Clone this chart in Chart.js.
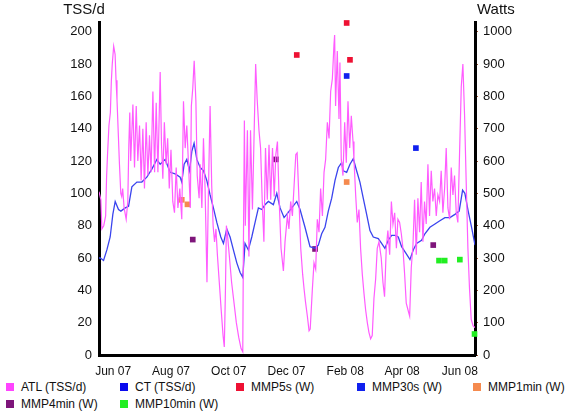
<!DOCTYPE html>
<html>
<head>
<meta charset="utf-8">
<script src="https://cdn.jsdelivr.net/npm/chart.js@4.4.1/dist/chart.umd.min.js"></script>
<style>
  body { margin: 0; background: #fff; }
  #wrap { position: relative; width: 566px; height: 412px; font-family: "Liberation Sans", Arial, sans-serif; }
  #c { position: absolute; left: 0; top: 0; }
  .item { position: absolute; font-size: 12px; line-height: 14px; color: #111; white-space: nowrap; }
  .box { position: absolute; left: 0; top: 3px; width: 8px; height: 8px; }
  .txt { position: absolute; left: 15px; top: 0; }
</style>
</head>
<body>
<div id="wrap">
  <canvas id="c" width="566" height="378"></canvas>
  <div id="legend"></div>
</div>
<script>
// days counted from 1 Jun 2007
var tickDays = [0, 61, 122, 183, 245, 305, 366];
var tickLabels = ["Jun 07", "Aug 07", "Oct 07", "Dec 07", "Feb 08", "Apr 08", "Jun 08"];
var tssTicks = [0, 20, 40, 60, 80, 100, 120, 140, 160, 180, 200];
var wattTicks = [0, 50, 100, 150, 200, 250, 300, 350, 400, 450, 500, 550, 600, 650, 700, 750, 800, 850, 900, 950, 1000];

// ATL (TSS/d): [day, value]
var atl = [
  [-15,101],[-13,96],[-12,78],[-10,80],[-8,86],[-7,110],[-6,124],[-4.5,142],[-3,150],[-2,169],
  [-1,180],[0.5,191],[2,186],[3,170],[4,158],[5.5,135],[6.6,118],[8,100],[9,98],[10,103],
  [11.5,91],[13.7,84],[15.4,95],[16.5,130],[17.5,150],[18.5,120],[20.8,155],[22.5,116],[24.3,154],[26,120],
  [27.8,142],[29.5,108],[31.3,140],[33,103],[34.8,144],[36.6,111],[38.3,136],[40,113],[41.9,163],[43.7,113],
  [45.4,156],[47.2,113],[49.6,175],[51,130],[52.4,109],[54,144],[55.9,118],[57.5,134],[59.2,103],[61,127],
  [62.9,95],[64.7,88],[66.5,116],[68.3,91],[70.3,103],[72.4,84],[74.2,157],[76,128],[77.7,142],[79.5,118],
  [81.4,91],[82.5,154],[84,165],[85.5,182],[87.3,157],[88.7,111],[90.7,97],[91.8,118],[93.6,91],[95.3,134],
  [97,103],[98.5,60],[99,45],[100.5,100],[102.3,154],[104,105],[105.5,80],[107,70],[108.5,78],[110,62],
  [112,45],[114,28],[116,12],[117.3,5],[118.5,40],[119.5,80],[121,72],[122.5,62],[125,45],[127,35],
  [130,20],[132.5,11],[135,4],[136.8,2],[137.5,70],[138.5,145],[139.5,80],[141.7,139],[143.3,61],[145,139],
  [147,90],[148.6,132],[150.4,180],[152,158],[153.9,139],[155.6,128],[157.3,96],[159.1,70],[160.8,128],[162.7,96],
  [164.5,130],[166.3,96],[168.2,128],[170,98],[171.7,124],[173.4,132],[175.2,96],[177.2,66],[179.7,52],[181.4,70],
  [183.9,86],[185.5,78],[187.4,95],[189.2,86],[191,105],[192.8,124],[194.2,125],[196.2,95],[198,66],[200,50],
  [201.5,41],[203,33],[205,24],[206.8,15],[208,16],[210.3,41],[212,57],[213.8,53],[215.5,84],[217.3,76],
  [219,103],[220.9,86],[222.6,113],[224.3,121],[226.1,144],[227.9,134],[229.6,163],[231.4,171],[233.1,192],[233.8,198],
  [234.8,154],[236.6,188],[238.4,146],[239.4,181],[240.8,121],[242.6,111],[244.4,144],[246.1,119],[247.9,157],[249.7,128],
  [251.4,148],[253.2,132],[254.2,121],[256,99],[257.7,82],[259.5,90],[261.2,66],[263,50],[264.8,38],[266.5,28],
  [268.3,20],[270,14],[271.8,10],[273.5,12],[275.3,35],[277.1,47],[278.8,66],[280.6,70],[283,60],[284.8,45],
  [286.5,36],[288.3,66],[290,77],[291.9,62],[293.7,95],[295.4,81],[297.2,88],[299,66],[300.6,84],[302.4,82],
  [304.2,75],[305.9,66],[307.7,50],[309.4,32],[311.2,28],[313,24],[314.7,54],[316.5,68],[318.2,96],[320,62],
  [321.7,97],[323.5,76],[325.2,107],[327,70],[328.7,95],[330.5,81],[332.3,118],[334,86],[335.8,114],[337.5,95],
  [339.3,103],[341.1,86],[342.8,99],[344.6,95],[346.3,114],[348.1,88],[349.9,103],[351.6,128],[353.4,91],[355.2,84],
  [356.9,116],[358.7,99],[360.4,111],[362.2,88],[363.9,82],[365.7,125],[367.5,166],[369.2,180],[371,148],[372.7,107],
  [374.5,66],[376.2,41],[378,22],[380,18],[382,17]
];

// CT (TSS/d), blue trace
var ct = [
  [-15,60],[-13.7,60],[-10.2,58.5],[-6.7,65],[-3.2,73],[-0.4,87],[2.1,95],[5.6,90],[8.1,89],[12.7,91],
  [16.2,92],[19.7,104],[25,107],[30.2,107],[35.5,110],[40.8,115],[46.1,121],[49.6,118],[54.9,121],[60.1,113],
  [65.4,112],[70.7,110],[72.4,107],[74.9,118],[77.7,121],[80.6,114],[83,126],[85.4,131],[88.3,121],[91.8,116],
  [95.3,114],[98.8,108],[102.3,99],[105.8,91],[109.4,82],[113.6,73],[116.4,69],[119.9,78],[123.4,73],[126.9,65],
  [130.5,57],[134,51],[136.8,48],[139.2,69],[142.7,65],[146.3,73],[149.8,82],[153.3,91],[156.9,90],[160.3,93],
  [163.8,95],[169.1,93],[172.7,100],[176.2,91],[180.4,85],[183.2,87],[188.5,91],[193.8,95],[197.3,90],[202.5,79],
  [207.8,67],[213.1,66],[216.6,68],[220.1,75],[223.6,79],[227.1,89],[230.7,97],[234.2,108],[237.7,116],[241.2,119],
  [242.9,114],[246.5,113],[250,118],[253.5,121.5],[257,114],[260.5,107],[264,97],[267.6,87],[271.1,77],[274.6,73],
  [279.9,72],[283.4,69],[286.9,66],[290.4,71],[294,74],[297.5,74],[301,73],[304.5,67],[309,63],[313.3,59],
  [316.8,65],[320.3,69],[325.6,71],[329.1,75],[334.4,79],[339.7,81],[344.9,83],[350.2,85],[355.5,85],[360.8,87],
  [365.3,89],[368.9,102],[371.3,100],[374.8,89],[378.4,79],[382,68]
];

// mean max power points (W)
var mmp5s = [[193.8,928],[246.5,1027],[250,913]];
var mmp30s = [[246.5,863],[319.6,640]];
var mmp1min = [[72.4,480],[78.4,466],[246.5,535]];
var mmp4min = [[84,357],[172,605],[213.1,328],[337.9,340]];
var mmp10min = [[344,292],[350,292],[366,295],[381.5,65]];

var axisTitles = ["TSS/d", "Watts"];

function pts(arr) {
  return arr.map(function (p) { return { x: p[0], y: p[1] }; });
}
function asTicks(vals) {
  return vals.map(function (v) { return { value: v }; });
}

Chart.defaults.font.family = '"Liberation Sans", Arial, sans-serif';
Chart.defaults.color = '#111';

var titlePlugin = {
  id: 'axisTitles',
  afterDraw: function (chart) {
    var ctx = chart.ctx;
    ctx.save();
    ctx.font = '15px "Liberation Sans", Arial, sans-serif';
    ctx.fillStyle = '#111';
    ctx.textBaseline = 'middle';
    ctx.textAlign = 'center';
    ctx.fillText(axisTitles[0], chart.scales.yL.right - 15, 10);
    ctx.textAlign = 'left';
    ctx.fillText(axisTitles[1], chart.scales.yW.left + 2, 10);
    ctx.restore();
  }
};

function sq(label, data, color) {
  return {
    label: label, data: pts(data), yAxisID: 'yW',
    backgroundColor: color, borderColor: color,
    pointStyle: 'rect', pointRadius: 4, pointHoverRadius: 4, borderWidth: 0,
    clip: false
  };
}

var chart = new Chart(document.getElementById('c').getContext('2d'), {
  type: 'scatter',
  data: {
    datasets: [
      { label: 'ATL (TSS/d)', data: pts(atl), yAxisID: 'yL', showLine: true,
        borderColor: '#ff5cff', backgroundColor: '#ff44ff', borderWidth: 1.2, pointRadius: 0, tension: 0 },
      { label: 'CT (TSS/d)', data: pts(ct), yAxisID: 'yL', showLine: true,
        borderColor: '#3a44ee', backgroundColor: '#0a0aee', borderWidth: 1.3, pointRadius: 0, tension: 0 },
      sq('MMP5s (W)', mmp5s, '#ee1133'),
      sq('MMP30s (W)', mmp30s, '#1020ee'),
      sq('MMP1min (W)', mmp1min, '#f58a4e'),
      sq('MMP4min (W)', mmp4min, '#7e157a'),
      sq('MMP10min (W)', mmp10min, '#22ee22')
    ]
  },
  options: {
    responsive: false,
    animation: false,
    devicePixelRatio: 1,
    layout: { padding: { top: 22, left: 0, right: 0, bottom: 0 } },
    plugins: { legend: { display: false }, tooltip: { enabled: false } },
    scales: {
      x: {
        type: 'linear', min: -15, max: 382,
        grid: { display: false, drawTicks: false, tickLength: 0 },
        border: { display: true, color: '#000', width: 3 },
        afterBuildTicks: function (s) { s.ticks = asTicks(tickDays); },
        afterFit: function (s) { s.height = 23; },
        ticks: {
          autoSkip: false, maxRotation: 0, padding: 9, font: { size: 12 },
          callback: function (v, i) { return tickLabels[i]; }
        }
      },
      yL: {
        type: 'linear', position: 'left', min: 0, max: 206,
        grid: { display: false, drawTicks: false, tickLength: 0 },
        border: { display: true, color: '#000', width: 3 },
        afterBuildTicks: function (s) { s.ticks = asTicks(tssTicks); },
        afterFit: function (s) { s.width = 99; },
        ticks: { padding: 7, font: { size: 13 } }
      },
      yW: {
        type: 'linear', position: 'right', min: 0, max: 1030,
        grid: { drawOnChartArea: false, drawTicks: true, tickLength: 3, color: '#a0522d' },
        border: { display: true, color: '#000', width: 3 },
        afterBuildTicks: function (s) { s.ticks = asTicks(wattTicks); },
        afterFit: function (s) { s.width = 91; },
        ticks: {
          padding: 5, font: { size: 13 },
          callback: function (v) { return v % 100 === 0 ? String(v) : ''; }
        }
      }
    }
  },
  plugins: [titlePlugin]
});

// legend laid out in fixed columns under the chart
var colX = [6, 120, 236, 357, 473];
var rowY = [380, 397];
var leg = document.getElementById('legend');
chart.data.datasets.forEach(function (ds, i) {
  var item = document.createElement('div');
  item.className = 'item';
  item.style.left = colX[i % 5] + 'px';
  item.style.top = rowY[Math.floor(i / 5)] + 'px';
  var box = document.createElement('span');
  box.className = 'box';
  box.style.background = ds.backgroundColor;
  var txt = document.createElement('span');
  txt.className = 'txt';
  txt.textContent = ds.label;
  item.appendChild(box);
  item.appendChild(txt);
  leg.appendChild(item);
});
</script>
</body>
</html>
